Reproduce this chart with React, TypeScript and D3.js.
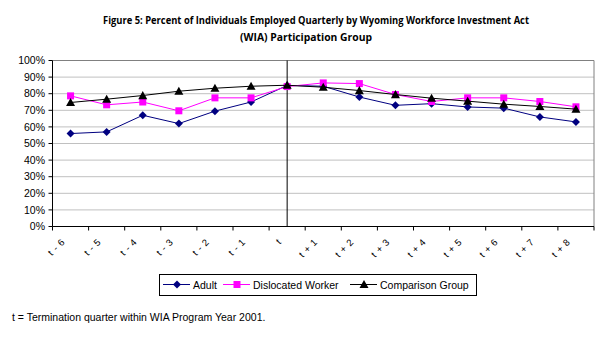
import React from "react";
import * as d3 from "d3";

const categories = ["t - 6", "t - 5", "t - 4", "t - 3", "t - 2", "t - 1", "t", "t + 1", "t + 2", "t + 3", "t + 4", "t + 5", "t + 6", "t + 7", "t + 8"];
const adult = [56, 57, 67, 62, 69.5, 75, 85, 84.5, 78, 73, 74, 72, 71.3, 66, 63];
const dislocated = [78.7, 73.3, 75, 69.7, 77.5, 77.5, 84.3, 86.5, 86.1, 79.5, 75.3, 77.5, 77.5, 75.3, 72.1];
const comparison = [74.7, 76.7, 78.9, 81.5, 83.3, 84.5, 85.1, 83.9, 81.9, 79.5, 77.3, 75.5, 73.7, 72.3, 70.7];
const yTicks = [0, 10, 20, 30, 40, 50, 60, 70, 80, 90, 100];
const seriesNames = ["Adult", "Dislocated Worker", "Comparison Group"];
const titleLines = [
  "Figure 5: Percent of Individuals Employed Quarterly by Wyoming Workforce Investment Act",
  "(WIA) Participation Group",
];
const footnote = "t = Termination quarter within WIA Program Year 2001.";

const W = 609, H = 343;
const left = 52.5, right = 594, top = 60.5, bottom = 226.5;
const FONT = "'Liberation Sans', Arial, sans-serif";

function Marker({ type, x, y }: { type: number; x: number; y: number }) {
  if (type === 0) {
    const r = 4;
    return <path d={`M${x},${y - r}L${x + r},${y}L${x},${y + r}L${x - r},${y}Z`} fill="#000080" />;
  }
  if (type === 1) {
    return <rect x={x - 3.5} y={y - 3.5} width={7} height={7} fill="#FF00FF" />;
  }
  const r = 4.5;
  return <path d={`M${x},${y - r}L${x + r},${y + r * 0.8}L${x - r},${y + r * 0.8}Z`} fill="#000000" />;
}

export default function App() {
  const x = d3.scaleBand<string>().domain(categories).range([left, right]).padding(0);
  const y = d3.scaleLinear().domain([0, 100]).range([bottom, top]);
  const cx = (c: string) => (x(c) as number) + x.bandwidth() / 2;
  const series = [adult, dislocated, comparison];
  const colors = ["#000080", "#FF00FF", "#000000"];
  const line = d3
    .line<number>()
    .x((_, i) => cx(categories[i]))
    .y((d) => y(d));

  const legendItems = [
    { lx: 163, tx: 193 },
    { lx: 223, tx: 253 },
    { lx: 350, tx: 380 },
  ];
  const legY = 284.5;
  const titleSpecs = [
    { cxT: 316, len: 426 },
    { cxT: 306, len: 132 },
  ];

  return (
    <svg width={W} height={H} style={{ position: "absolute", left: 0, top: 0, background: "#fff" }}>
      <rect width={W} height={H} fill="#fff" />
      {titleLines.map((t, i) => (
        <text
          key={i}
          x={titleSpecs[i].cxT}
          y={24 + i * 17}
          textAnchor="middle"
          fontFamily="'Open Sans', sans-serif"
          fontWeight="bold"
          fontSize={10.5}
          textLength={titleSpecs[i].len}
          lengthAdjust="spacingAndGlyphs"
        >
          {t}
        </text>
      ))}
      {yTicks.map((t) => (
        <line key={t} x1={left} x2={right} y1={y(t)} y2={y(t)} stroke="#c0c0c0" strokeWidth={1} />
      ))}
      <line x1={left} x2={right} y1={top} y2={top} stroke="#808080" />
      <line x1={right} x2={right} y1={top} y2={bottom} stroke="#808080" />
      <line x1={left} x2={left} y1={top} y2={bottom} stroke="#000" />
      <line x1={left} x2={right} y1={bottom} y2={bottom} stroke="#000" />
      {yTicks.map((t) => (
        <g key={"yt" + t}>
          <line x1={left - 4} x2={left} y1={y(t)} y2={y(t)} stroke="#000" />
          <text x={45} y={y(t) + 3.6} textAnchor="end" fontFamily={FONT} fontSize={10.5}>
            {t + "%"}
          </text>
        </g>
      ))}
      {categories.map((c) => (
        <line key={"xt" + c} x1={x(c) as number} x2={x(c) as number} y1={bottom} y2={bottom + 4} stroke="#000" />
      ))}
      <line x1={right} x2={right} y1={bottom} y2={bottom + 4} stroke="#000" />
      <line x1={cx("t")} x2={cx("t")} y1={top} y2={bottom} stroke="#000" />
      {categories.map((c) => (
        <text
          key={"xl" + c}
          transform={`translate(${cx(c) - 5},${bottom + 16}) rotate(-45)`}
          textAnchor="end"
          fontFamily={FONT}
          fontSize={9.5}
          letterSpacing={0.6}
        >
          {c}
        </text>
      ))}
      {series.map((s, k) => (
        <g key={"s" + k}>
          <path d={line(s) || ""} fill="none" stroke={colors[k]} strokeWidth={1} />
          {s.map((v, i) => (
            <Marker key={i} type={k} x={cx(categories[i])} y={y(v)} />
          ))}
        </g>
      ))}
      <rect x={159.5} y={274.5} width={317} height={21} fill="#fff" stroke="#000" />
      {legendItems.map((it, k) => (
        <g key={"lg" + k}>
          <line x1={it.lx} x2={it.lx + 27} y1={legY} y2={legY} stroke={colors[k]} />
          <Marker type={k} x={it.lx + 14} y={legY} />
          <text x={it.tx} y={legY + 4} fontFamily={FONT} fontSize={10.5}>
            {seriesNames[k]}
          </text>
        </g>
      ))}
      <text x={12} y={321} fontFamily={FONT} fontSize={10.5}>
        {footnote}
      </text>
    </svg>
  );
}
